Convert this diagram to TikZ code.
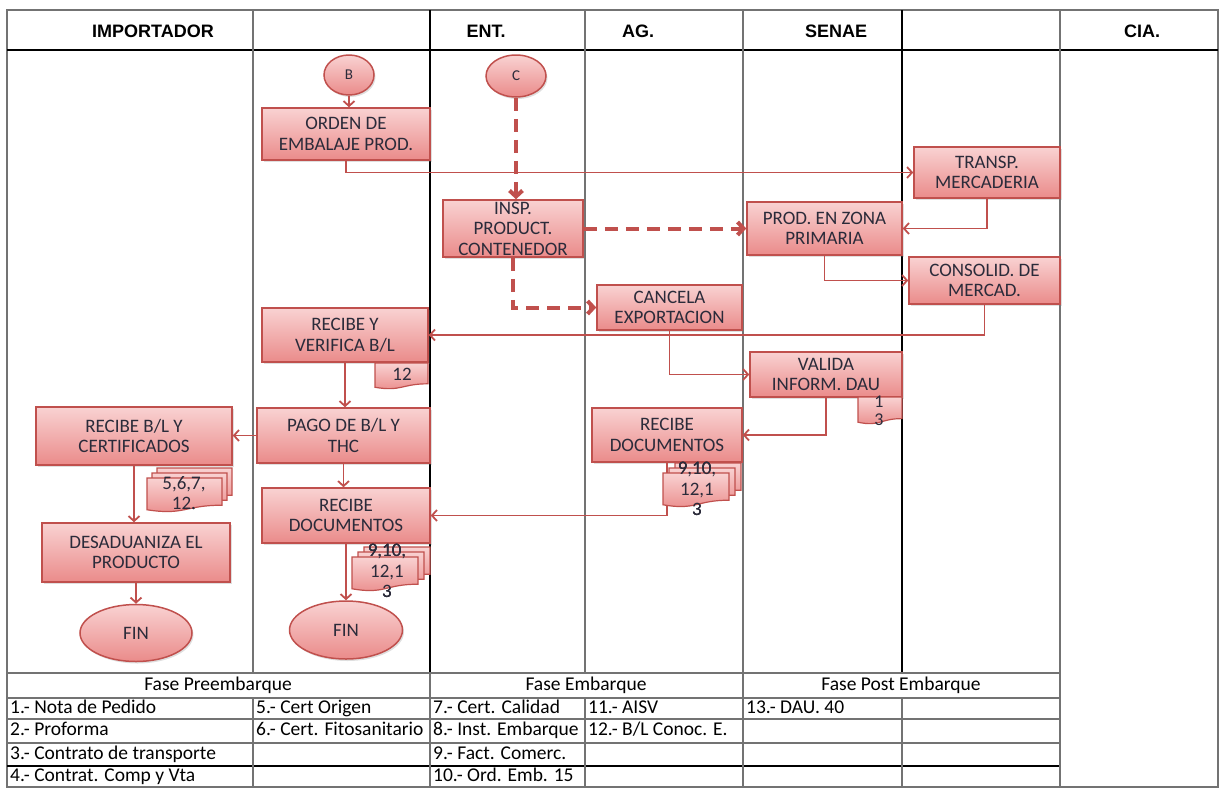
\documentclass[tikz,border=0pt]{standalone}
\usepackage{fontspec}
\setmainfont{Carlito}
\newfontfamily\laneheadfont{Liberation Sans}
\usepackage{tikz}
\usetikzlibrary{shapes.geometric, arrows.meta, shadows}

\definecolor{linered}{HTML}{C0504D}
\definecolor{boxtop}{HTML}{F9D2D2}
\definecolor{boxbot}{HTML}{EA8B8A}
\definecolor{boxtext}{HTML}{2B2B3A}

\newcommand{\flowfont}{\fontsize{19}{20.5}\selectfont}
\newcommand{\cellfont}{\fontsize{19.5}{22}\selectfont}

% wavy bottom sheet: x, y (top left), width, height
\newcommand{\docsheet}[4]{%
  \path[sheet] (#1,#2) -- ({#1+#3},#2) -- ({#1+#3},{#2+0.8*#4})
    .. controls ({#1+0.5*#3},{#2+0.8*#4}) and ({#1+0.5*#3},{#2+1.107*#4}) .. (#1,{#2+0.934*#4}) -- cycle;}

\tikzset{
  proc/.style={draw=linered, line width=1.5pt, top color=boxtop, bottom color=boxbot,
    text=boxtext, align=center, inner sep=0pt, font=\flowfont,
    drop shadow={opacity=0.25, shadow xshift=1.5pt, shadow yshift=-2pt}},
  box/.style 2 args={proc, rectangle, minimum width=#1pt, minimum height=#2pt},
  term/.style 2 args={proc, ellipse, minimum width=#1pt, minimum height=#2pt},
  flow/.style={draw=linered, line width=1.8pt, -{Straight Barb[length=5pt,width=11pt]}},
  dflow/.style={draw=linered, line width=4pt, dash pattern=on 13pt off 8pt,
    -{Straight Barb[length=6pt,width=13pt]}},
  sheet/.style={draw=linered, line width=1.2pt, top color=boxtop, bottom color=boxbot},
  doctext/.style={text=boxtext, align=center, inner sep=0pt, font=\flowfont},
  lane/.style={draw=black!55, line width=1.3pt},
  darklane/.style={draw=black, line width=1.3pt},
  lanehead/.style={font=\laneheadfont\bfseries\fontsize{18}{20}\selectfont},
  cell/.style={anchor=west, inner sep=0pt, font=\cellfont, text height=13pt, text depth=4pt},
  phase/.style={inner sep=0pt, font=\cellfont, text height=13pt, text depth=4pt},
}

\begin{document}
\begin{tikzpicture}[x=1pt, y=-1pt]
  \useasboundingbox (0,0) rectangle (1220,788);

  % Outer frame and header row
  \draw[lane] (7,10) rectangle (1218,787);
  \draw[darklane] (7,50) -- (1218,50);
  \foreach \lx in {253,585,743,1060}
    \draw[lane] (\lx,10) -- (\lx,673);
  \foreach \lx in {430,902}
    \draw[darklane] (\lx,10) -- (\lx,673);

  % Lane titles
  \node[lanehead] (hImp) at (153,31) {IMPORTADOR};
  \node[lanehead] (hEnt) at (486,31) {ENT.};
  \node[lanehead] (hAg) at (638,31) {AG.};
  \node[lanehead] (hSenae) at (836,31) {SENAE};
  \node[lanehead] (hCia) at (1142,31) {CIA.};

  % Table of documents
  \foreach \ty in {673,698,719,743}
    \draw[lane] (7,\ty) -- (1060,\ty);
  \draw[darklane] (7,766) -- (1060,766);
  \foreach \lx in {430,743,1060}
    \draw[lane] (\lx,673) -- (\lx,787);
  \foreach \lx in {253,585,902}
    \draw[lane] (\lx,698) -- (\lx,787);

  \node[phase] (fPre) at (218,685.5) {Fase Preembarque};
  \node[phase] (fEmb) at (586,685.5) {Fase Embarque};
  \node[phase] (fPost) at (901,685.5) {Fase Post Embarque};

  \node[cell] (t1) at (10,708.5) {1.- Nota de Pedido};
  \node[cell] (t2) at (10,731) {2.- Proforma};
  \node[cell] (t3) at (10,754.5) {3.- Contrato de transporte};
  \node[cell] (t4) at (10,776.5) {4.- Contrat. Comp y Vta};
  \node[cell] (t5) at (256,708.5) {5.- Cert Origen};
  \node[cell] (t6) at (256,731) {6.- Cert. Fitosanitario};
  \node[cell] (t7) at (433,708.5) {7.- Cert. Calidad};
  \node[cell] (t8) at (433,731) {8.- Inst. Embarque};
  \node[cell] (t9) at (433,754.5) {9.- Fact. Comerc.};
  \node[cell] (t10) at (433,776.5) {10.- Ord. Emb. 15};
  \node[cell] (t11) at (588,708.5) {11.- AISV};
  \node[cell] (t12) at (588,731) {12.- B/L Conoc. E.};
  \node[cell] (t13) at (746,708.5) {13.- DAU. 40};

  % Start points
  \node[term={50}{40}, font=\fontsize{15}{16}\selectfont] (ptB) at (349,75) {B};
  \node[term={60}{42}, font=\fontsize{15}{16}\selectfont] (ptC) at (516,76) {C};

  % Process boxes
  \node[box={168}{52}] (ordn) at (346,134) {ORDEN DE\\EMBALAJE PROD.};
  \node[box={140}{57}] (insp) at (513,228.5) {INSP.\\PRODUCT.\\CONTENEDOR};
  \node[box={146}{51}] (transp) at (987,172.5) {TRANSP.\\MERCADERIA};
  \node[box={155}{53}] (zona) at (824.5,228.5) {PROD. EN ZONA\\PRIMARIA};
  \node[box={151}{47}] (consol) at (984.5,280.5) {CONSOLID. DE\\MERCAD.};
  \node[box={145}{45}] (cancela) at (669.5,307.5) {CANCELA\\EXPORTACION};
  \node[box={152}{45}] (valida) at (826,374.5) {VALIDA\\INFORM. DAU};
  \node[box={150}{54}] (recag) at (667,435) {RECIBE\\DOCUMENTOS};
  \node[box={166}{54}] (verif) at (345,335) {RECIBE Y\\VERIFICA B/L};
  \node[box={173}{55}] (pago) at (343.5,435.5) {PAGO DE B/L Y\\THC};
  \node[box={168}{55}] (recdoc) at (346,515.5) {RECIBE\\DOCUMENTOS};
  \node[box={196}{58}] (recbl) at (134,436) {RECIBE B/L Y\\CERTIFICADOS};
  \node[box={188}{59}] (desad) at (136,552.5) {DESADUANIZA EL\\PRODUCTO};

  % End points
  \node[term={112}{57}] (finA) at (136,633) {FIN};
  \node[term={113}{58}] (finB) at (346,630) {FIN};

  % Connectors
  \draw[flow] (ptB) -- (ptB |- ordn.north);
  \draw[flow] (ordn.south) |- (transp.west);
  \draw[dflow] (ptC) -- (ptC |- insp.north);
  \draw[dflow] (insp.east) -- (zona.west);
  \draw[dflow] (insp.south) |- (cancela.west);
  \draw[flow] (transp.south) |- (zona.east);
  \draw[flow] (zona.south) |- (consol.west);
  \draw[flow] (consol.south) |- (verif.east);
  \draw[flow] (cancela.south) |- (valida.west);
  \draw[flow] (valida.south) |- (recag.east);
  \draw[flow] (recag.south) |- (recdoc.east);
  \draw[flow] (verif.south) -- (verif.south |- pago.north);
  \draw[flow] (pago.south) -- (pago.south |- recdoc.north);
  \draw[flow] (recdoc.south) -- (recdoc.south |- finB.north);
  \draw[flow] (pago.west) -- (pago.west -| recbl.east);
  \draw[flow] (recbl.south) -- (recbl.south |- desad.north);
  \draw[flow] (desad.south) -- (desad.south |- finA.north);

  % Documents
  \docsheet{375}{363}{53}{26}
  \node[doctext] (dVerif) at (402,374) {12};

  \docsheet{858}{397}{44}{27}
  \node[doctext, font=\fontsize{18}{18}\selectfont] (dValida) at (879,411) {1\\3};

  \foreach \dx/\dy in {10/-10,5/-5,0/0}
    \docsheet{147+\dx}{478+\dy}{75}{34}
  \node[doctext] (dRecbl) at (184,493) {5,6,7,\\12.};

  \foreach \dx/\dy in {12/-10,6/-5,0/0}
    \docsheet{352+\dx}{557+\dy}{66}{34}
  \node[doctext] (dRecdoc) at (387,571) {9,10,\\12,1\\3};

  \foreach \dx/\dy in {12/-10,6/-5,0/0}
    \docsheet{663+\dx}{473+\dy}{66}{34}
  \node[doctext] (dRecag) at (697,489) {9,10,\\12,1\\3};
\end{tikzpicture}
\end{document}
